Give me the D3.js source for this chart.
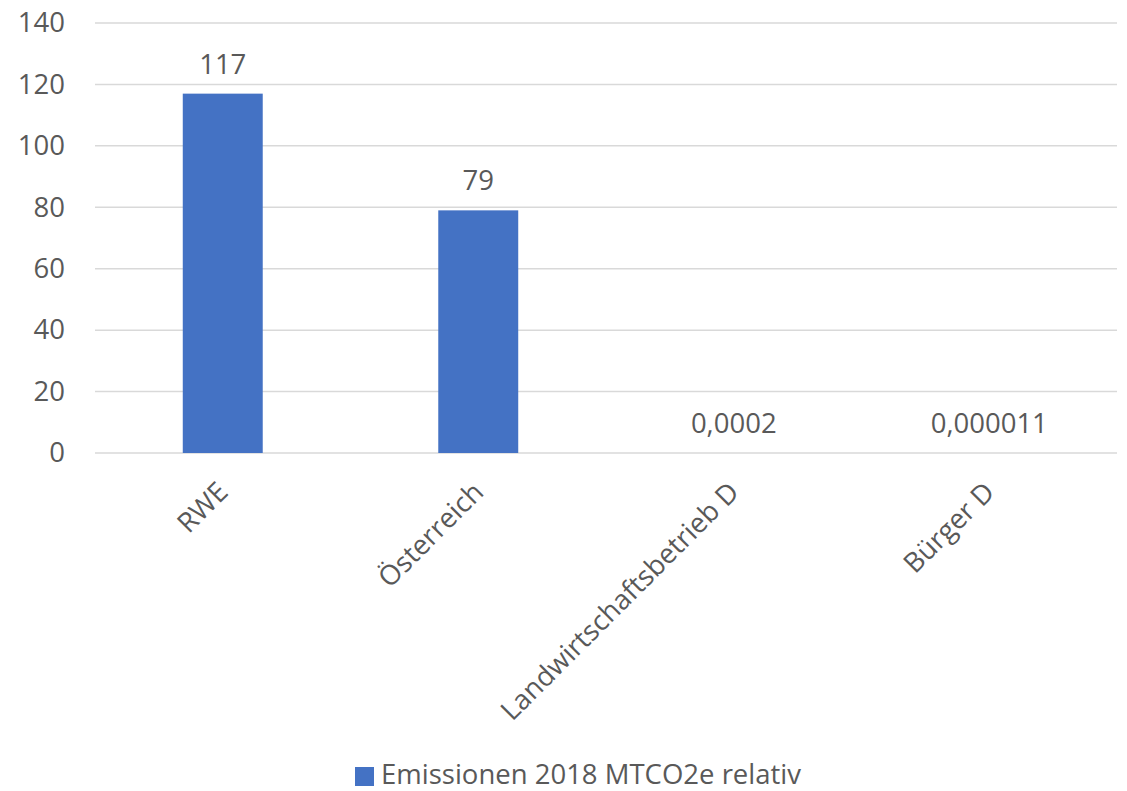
<!DOCTYPE html>
<html><head><meta charset="utf-8">
<script src="https://cdn.jsdelivr.net/npm/d3@7"></script>
<style>body{margin:0;background:#fff}svg{display:block}text{font-family:"Open Sans",sans-serif;fill:#595959}</style>
</head><body><svg id="c" width="1127" height="791"></svg>
<script>
const categories = ["RWE", "Österreich", "Landwirtschaftsbetrieb D", "Bürger D"];
const values = [117, 79, 0.0002, 0.000011];
const valueLabels = ["117", "79", "0,0002", "0,000011"];
const yTicks = [0, 20, 40, 60, 80, 100, 120, 140];
const seriesName = "Emissionen 2018 MTCO2e relativ";

const svg = d3.select("#c");
const m = {l: 95, r: 1117, t: 23, b: 453};
const x = d3.scaleBand().domain(categories).range([m.l, m.r]).paddingInner(0.687).paddingOuter(0.3435);
const y = d3.scaleLinear().domain([0, 140]).range([m.b, m.t]);
const fs = 27.5;

// gridlines
svg.append("g").selectAll("line").data(yTicks).join("line")
  .attr("x1", m.l).attr("x2", m.r)
  .attr("y1", d => y(d)).attr("y2", d => y(d))
  .attr("stroke", "#d9d9d9").attr("stroke-width", 1.5);

// y axis labels
const yAxis = d3.axisLeft(y).tickValues(yTicks).tickSize(0).tickPadding(0);
const ga = svg.append("g").attr("transform", `translate(65,0)`).call(yAxis);
ga.select(".domain").remove();
ga.selectAll("text").attr("font-size", fs).attr("fill", "#595959").style("font-family", '"Open Sans",sans-serif');

// bars
svg.append("g").selectAll("rect").data(values).join("rect")
  .attr("x", (d, i) => x(categories[i]))
  .attr("width", x.bandwidth())
  .attr("y", d => y(d))
  .attr("height", d => y(0) - y(d))
  .attr("fill", "#4472c4");

// value labels
svg.append("g").selectAll("text").data(values).join("text")
  .attr("x", (d, i) => x(categories[i]) + x.bandwidth() / 2)
  .attr("y", d => y(d) - 20)
  .attr("text-anchor", "middle").attr("font-size", fs).attr("fill", "#404040")
  .text((d, i) => valueLabels[i]);

// category labels
svg.append("g").selectAll("text").data(categories).join("text")
  .attr("transform", d => `translate(${x(d) + x.bandwidth() / 2 + 0},${m.b + 34}) rotate(-45)`)
  .attr("text-anchor", "end").attr("dy", "0.35em").attr("font-size", fs)
  .text(d => d);

// legend
const lg = svg.append("g");
lg.append("rect").attr("x", 355).attr("y", 767).attr("width", 19).attr("height", 19).attr("fill", "#4472c4");
lg.append("text").attr("x", 381).attr("y", 784).attr("font-size", fs).text(seriesName);
</script></body></html>
